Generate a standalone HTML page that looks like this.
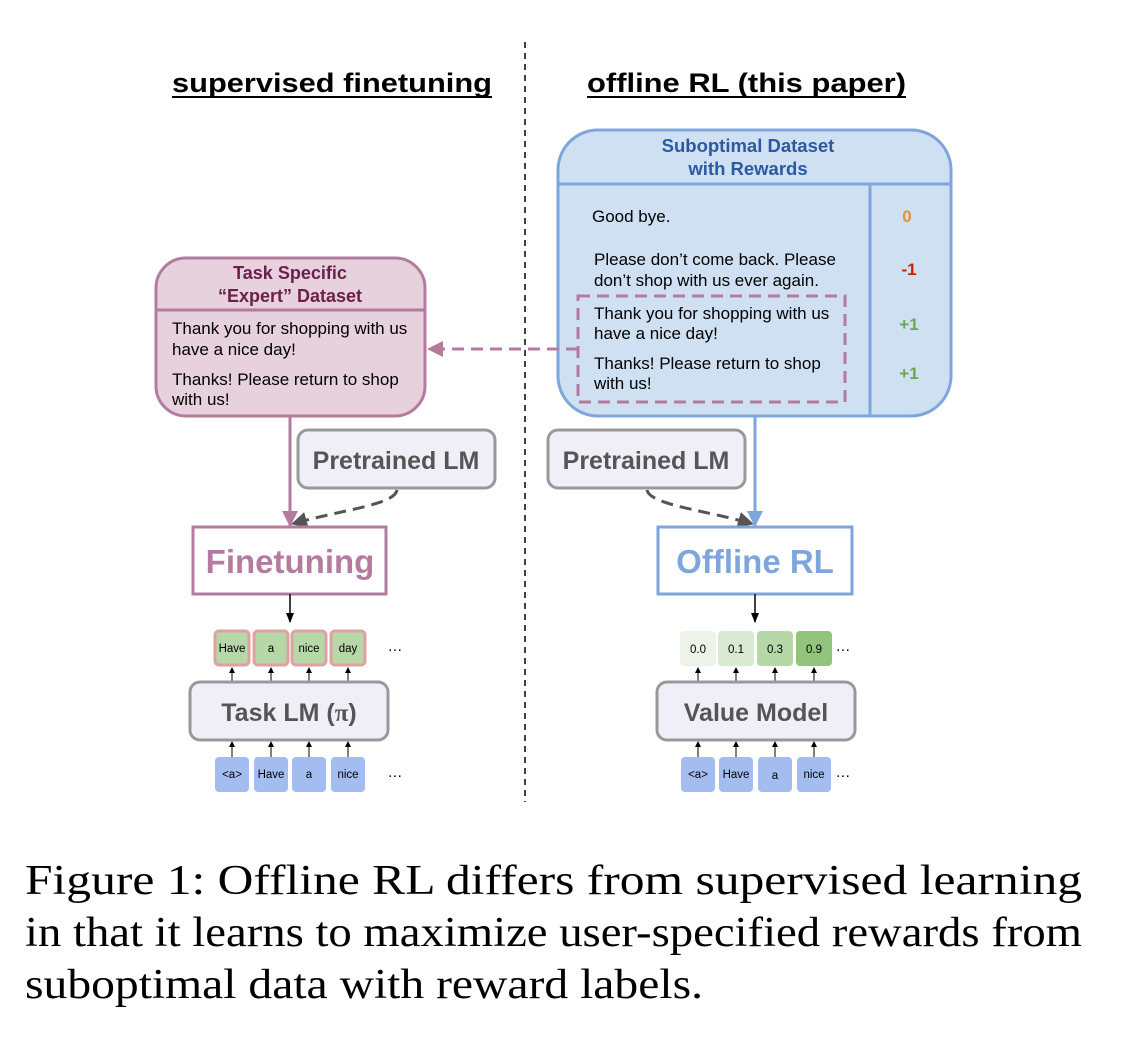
<!DOCTYPE html>
<html><head><meta charset="utf-8"><style>
body{margin:0;background:#fff;width:1142px;height:1054px;overflow:hidden}
svg{display:block}
text{font-family:"Liberation Sans",Arial,sans-serif}
.cap{font-family:"Liberation Serif",serif;font-size:42px;fill:#000}
</style></head><body>
<svg width="1142" height="1054" viewBox="0 0 1142 1054" xmlns="http://www.w3.org/2000/svg">
<defs>
<marker id="apb" markerWidth="16" markerHeight="16" refX="15" refY="8" orient="auto" markerUnits="userSpaceOnUse"><path d="M0,0 L16,8 L0,16 z" fill="#b57b9f"/></marker>
<marker id="ab" markerWidth="16" markerHeight="16" refX="15" refY="8" orient="auto" markerUnits="userSpaceOnUse"><path d="M0,0 L16,8 L0,16 z" fill="#7ea6dd"/></marker>
<marker id="ag" markerWidth="16" markerHeight="16" refX="15" refY="8" orient="auto" markerUnits="userSpaceOnUse"><path d="M0,0 L16,8 L0,16 z" fill="#555"/></marker>
<marker id="ak" markerWidth="10" markerHeight="10" refX="9" refY="5" orient="auto" markerUnits="userSpaceOnUse"><path d="M0,1 L10,5 L0,9 z" fill="#000"/></marker>
<marker id="as" markerWidth="6" markerHeight="6" refX="5" refY="3" orient="auto" markerUnits="userSpaceOnUse"><path d="M0,0 L6,3 L0,6 z" fill="#000"/></marker>
</defs>
<!-- titles -->
<text x="172" y="92" font-size="27" font-weight="bold" textLength="320" lengthAdjust="spacingAndGlyphs">supervised finetuning</text>
<line x1="172" y1="97" x2="492" y2="97" stroke="#000" stroke-width="2"/>
<text x="587" y="92" font-size="27" font-weight="bold" textLength="319" lengthAdjust="spacingAndGlyphs">offline RL (this paper)</text>
<line x1="587" y1="97" x2="906" y2="97" stroke="#000" stroke-width="2"/>
<line x1="525" y1="42" x2="525" y2="802" stroke="#000" stroke-width="1.5" stroke-dasharray="6,5"/>

<!-- left dataset -->
<rect x="156" y="258" width="269" height="158" rx="30" fill="#e6d1dc" stroke="#b57b9f" stroke-width="3"/>
<line x1="156" y1="310" x2="425" y2="310" stroke="#b57b9f" stroke-width="3"/>
<text x="290" y="279" text-anchor="middle" font-size="18" font-weight="bold" fill="#6b1f4a">Task Specific</text>
<text x="290" y="302" text-anchor="middle" font-size="18" font-weight="bold" fill="#6b1f4a">“Expert” Dataset</text>
<g font-size="17" fill="#000">
<text x="172" y="334">Thank you for shopping with us</text>
<text x="172" y="355">have a nice day!</text>
<text x="172" y="385">Thanks! Please return to shop</text>
<text x="172" y="405">with us!</text>
</g>

<!-- right dataset -->
<rect x="558" y="130" width="393" height="286" rx="40" fill="#cfe0f2" stroke="#7ea6dd" stroke-width="3"/>
<line x1="558" y1="184" x2="951" y2="184" stroke="#7ea6dd" stroke-width="3"/>
<line x1="870" y1="184" x2="870" y2="416" stroke="#7ea6dd" stroke-width="3"/>
<text x="748" y="152" text-anchor="middle" font-size="18.5" font-weight="bold" fill="#2c5aa0">Suboptimal Dataset</text>
<text x="748" y="175" text-anchor="middle" font-size="18.5" font-weight="bold" fill="#2c5aa0">with Rewards</text>
<g font-size="17" fill="#000">
<text x="592" y="222">Good bye.</text>
<text x="594" y="265">Please don’t come back. Please</text>
<text x="594" y="286">don’t shop with us ever again.</text>
<text x="594" y="319">Thank you for shopping with us</text>
<text x="594" y="339">have a nice day!</text>
<text x="594" y="369">Thanks! Please return to shop</text>
<text x="594" y="389">with us!</text>
</g>
<g font-size="17" font-weight="bold" text-anchor="middle">
<text x="907" y="222" fill="#e69138">0</text>
<text x="909" y="275" fill="#cc2200">-1</text>
<text x="909" y="330" fill="#6aa84f">+1</text>
<text x="909" y="379" fill="#6aa84f">+1</text>
</g>
<rect x="578" y="296" width="267" height="106" fill="none" stroke="#b57b9f" stroke-width="3" stroke-dasharray="12,7"/>
<path d="M578,349 L428,349" stroke="#b57b9f" stroke-width="3" stroke-dasharray="12,7" fill="none" marker-end="url(#apb)"/>

<!-- pretrained LMs -->
<rect x="298" y="430" width="197" height="58" rx="10" fill="#f0eff8" stroke="#999" stroke-width="3"/>
<text x="396" y="469" text-anchor="middle" font-size="25" font-weight="bold" fill="#555">Pretrained LM</text>
<rect x="548" y="430" width="197" height="58" rx="10" fill="#f0eff8" stroke="#999" stroke-width="3"/>
<text x="646" y="469" text-anchor="middle" font-size="25" font-weight="bold" fill="#555">Pretrained LM</text>

<!-- arrows to training -->
<path d="M290,416 L290,526" stroke="#b57b9f" stroke-width="3" fill="none" marker-end="url(#apb)"/>
<path d="M397,490 C395,505 340,510 292,524" stroke="#555" stroke-width="3" stroke-dasharray="12,7" fill="none" marker-end="url(#ag)"/>
<path d="M755,416 L755,526" stroke="#7ea6dd" stroke-width="3" fill="none" marker-end="url(#ab)"/>
<path d="M647,490 C650,505 705,510 753,524" stroke="#555" stroke-width="3" stroke-dasharray="12,7" fill="none" marker-end="url(#ag)"/>

<!-- training boxes -->
<rect x="193" y="527" width="193" height="67" fill="#fff" stroke="#b57b9f" stroke-width="3"/>
<text x="290" y="573" text-anchor="middle" font-size="33" font-weight="bold" fill="#b57b9f">Finetuning</text>
<rect x="658" y="527" width="194" height="67" fill="#fff" stroke="#7ea6dd" stroke-width="3"/>
<text x="755" y="573" text-anchor="middle" font-size="33" font-weight="bold" fill="#7ea6dd">Offline RL</text>
<line x1="290" y1="594" x2="290" y2="622" stroke="#000" stroke-width="1.5" marker-end="url(#ak)"/>
<line x1="755" y1="594" x2="755" y2="622" stroke="#000" stroke-width="1.5" marker-end="url(#ak)"/>

<!-- output tokens -->
<g font-size="11.5" text-anchor="middle" fill="#000">
<rect x="215" y="631" width="34" height="34" rx="4" fill="#b6d7a8" stroke="#e0a0a0" stroke-width="3"/><text x="232" y="652">Have</text>
<rect x="254" y="631" width="34" height="34" rx="4" fill="#b6d7a8" stroke="#e0a0a0" stroke-width="3"/><text x="271" y="652">a</text>
<rect x="292" y="631" width="34" height="34" rx="4" fill="#b6d7a8" stroke="#e0a0a0" stroke-width="3"/><text x="309" y="652">nice</text>
<rect x="331" y="631" width="34" height="34" rx="4" fill="#b6d7a8" stroke="#e0a0a0" stroke-width="3"/><text x="348" y="652">day</text>
<text x="395" y="651" font-size="15">…</text>
<rect x="680" y="631" width="36" height="35" rx="4" fill="#eef3ea"/><text x="698" y="653">0.0</text>
<rect x="718" y="631" width="36" height="35" rx="4" fill="#d9ead3"/><text x="736" y="653">0.1</text>
<rect x="757" y="631" width="36" height="35" rx="4" fill="#b6d7a8"/><text x="775" y="653">0.3</text>
<rect x="796" y="631" width="36" height="35" rx="4" fill="#93c47d"/><text x="814" y="653">0.9</text>
<text x="843" y="651" font-size="15">…</text>
</g>
<g stroke="#000" stroke-width="1">
<line x1="232" y1="682" x2="232" y2="668" marker-end="url(#as)"/>
<line x1="271" y1="682" x2="271" y2="668" marker-end="url(#as)"/>
<line x1="309" y1="682" x2="309" y2="668" marker-end="url(#as)"/>
<line x1="348" y1="682" x2="348" y2="668" marker-end="url(#as)"/>
<line x1="698" y1="682" x2="698" y2="668" marker-end="url(#as)"/>
<line x1="736" y1="682" x2="736" y2="668" marker-end="url(#as)"/>
<line x1="775" y1="682" x2="775" y2="668" marker-end="url(#as)"/>
<line x1="814" y1="682" x2="814" y2="668" marker-end="url(#as)"/>
<line x1="232" y1="757" x2="232" y2="742" marker-end="url(#as)"/>
<line x1="271" y1="757" x2="271" y2="742" marker-end="url(#as)"/>
<line x1="309" y1="757" x2="309" y2="742" marker-end="url(#as)"/>
<line x1="348" y1="757" x2="348" y2="742" marker-end="url(#as)"/>
<line x1="698" y1="757" x2="698" y2="742" marker-end="url(#as)"/>
<line x1="736" y1="757" x2="736" y2="742" marker-end="url(#as)"/>
<line x1="775" y1="757" x2="775" y2="742" marker-end="url(#as)"/>
<line x1="814" y1="757" x2="814" y2="742" marker-end="url(#as)"/>
</g>

<!-- model boxes -->
<rect x="190" y="682" width="198" height="58" rx="10" fill="#f0eff8" stroke="#999" stroke-width="3"/>
<text x="289" y="721" text-anchor="middle" font-size="25" font-weight="bold" fill="#555">Task LM (<tspan font-family="Liberation Serif,serif">π</tspan>)</text>
<rect x="657" y="682" width="198" height="58" rx="10" fill="#f0eff8" stroke="#999" stroke-width="3"/>
<text x="756" y="721" text-anchor="middle" font-size="25" font-weight="bold" fill="#555">Value Model</text>

<!-- input tokens -->
<g font-size="11.5" text-anchor="middle" fill="#000">
<rect x="215" y="757" width="34" height="35" rx="4" fill="#a4bdf0"/><text x="232" y="778">&lt;a&gt;</text>
<rect x="254" y="757" width="34" height="35" rx="4" fill="#a4bdf0"/><text x="271" y="778">Have</text>
<rect x="292" y="757" width="34" height="35" rx="4" fill="#a4bdf0"/><text x="309" y="778">a</text>
<rect x="331" y="757" width="34" height="35" rx="4" fill="#a4bdf0"/><text x="348" y="778">nice</text>
<text x="395" y="777" font-size="15">…</text>
<rect x="681" y="757" width="34" height="35" rx="4" fill="#a4bdf0"/><text x="698" y="778">&lt;a&gt;</text>
<rect x="719" y="757" width="34" height="35" rx="4" fill="#a4bdf0"/><text x="736" y="778">Have</text>
<rect x="758" y="757" width="34" height="35" rx="4" fill="#a4bdf0"/><text x="775" y="779">a</text>
<rect x="797" y="757" width="34" height="35" rx="4" fill="#a4bdf0"/><text x="814" y="778">nice</text>
<text x="843" y="777" font-size="15">…</text>
</g>

<!-- caption -->
<text class="cap" x="25" y="894" textLength="1057" lengthAdjust="spacingAndGlyphs">Figure 1: Offline RL differs from supervised learning</text>
<text class="cap" x="25" y="946" textLength="1057" lengthAdjust="spacingAndGlyphs">in that it learns to maximize user-specified rewards from</text>
<text class="cap" x="25" y="998" textLength="678" lengthAdjust="spacingAndGlyphs">suboptimal data with reward labels.</text>
</svg>
</body></html>
